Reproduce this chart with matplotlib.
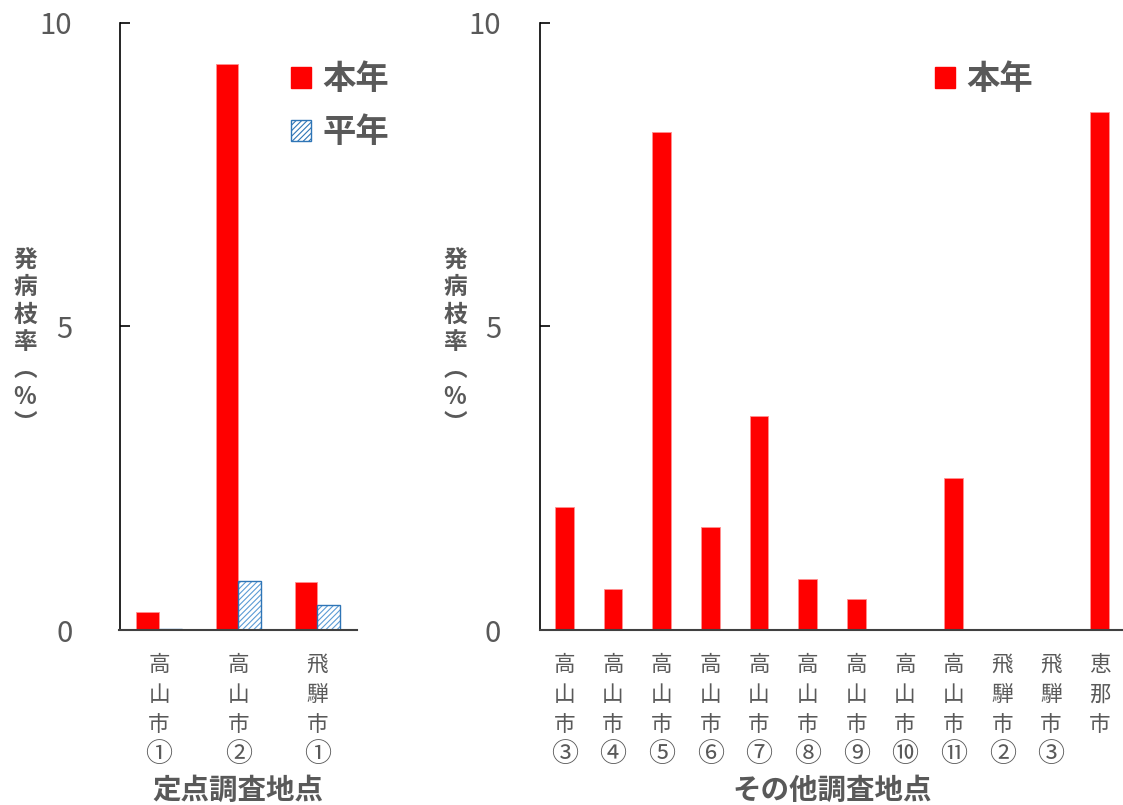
import numpy as np
import matplotlib
matplotlib.use("Agg")
from matplotlib import pyplot as plt
from matplotlib.patches import Patch

plt.rcParams['font.family'] = ['Noto Sans CJK JP', 'DejaVu Sans']
plt.rcParams['hatch.linewidth'] = 0.8

# -- datos -- #
fijos = ["高山市", "高山市", "飛騨市"]
fijos_num = ["①", "②", "①"]
fijos_honnen = [0.30, 9.32, 0.79]
fijos_heinen = [0.02, 0.81, 0.41]

otros = ["高山市", "高山市", "高山市", "高山市", "高山市", "高山市",
         "高山市", "高山市", "高山市", "飛騨市", "飛騨市", "恵那市"]
otros_num = ["③", "④", "⑤", "⑥", "⑦", "⑧", "⑨", "⑩", "⑪", "②", "③", ""]
otros_honnen = [2.02, 0.67, 8.21, 1.69, 3.53, 0.84, 0.51, 0.0, 2.51, 0.0, 0.0, 8.54]

gris = "#595959"
rojo = "#FF0000"
azul = "#2E75B6"
azul_claro = "#5B9BD5"
ylabel = "\n".join(["発", "病", "枝", "率", "︵", "%", "︶"])


def vertical(s):
    return "\n".join(list(s))


def estilo(ax, pad, nums):
    ax.set_ylim(0, 10)
    ax.set_yticks([0, 5, 10])
    ax.tick_params(axis="y", direction="in", length=7, width=1.2, pad=pad,
                   labelsize=21, labelcolor=gris)
    ax.tick_params(axis="x", length=0, pad=17)
    for lab in ax.get_xticklabels():
        lab.set_fontsize(15.5)
        lab.set_color(gris)
        lab.set_linespacing(1.48)
        lab.set_va("top")
    # numeros en circulo debajo del nombre
    for x, n in zip(ax.get_xticks(), nums):
        ax.text(x, -0.205, n, transform=ax.get_xaxis_transform(), ha="center", va="center",
                fontsize=19.5, color=gris)
    ax.xaxis.set_label_coords(0.5, -0.242)
    ax.spines["top"].set_visible(False)
    ax.spines["right"].set_visible(False)
    ax.spines["left"].set_linewidth(1.2)
    ax.spines["bottom"].set_linewidth(1.5)
    ax.spines["bottom"].set_color("#404040")


fig = plt.figure(figsize=(11.23, 8.05), dpi=100)

# -- definidos -- #
ax1 = fig.add_axes([119.5 / 1123, 1 - 630 / 805, (357 - 119.5) / 1123, (630 - 23) / 805])
x1 = np.arange(len(fijos))
w1 = 0.287
ax1.bar(x1 - w1 / 2, fijos_honnen, w1, color=rojo, edgecolor="#FF9090", linewidth=0.6)
ax1.bar(x1 + w1 / 2, fijos_heinen, w1, color="white", edgecolor=azul_claro, hatch="//////", linewidth=0)
ax1.bar(x1 + w1 / 2, fijos_heinen, w1, fill=False, edgecolor=azul, linewidth=1.0)
ax1.set_xlim(-0.5, 2.5)
ax1.set_xticks(x1)
ax1.set_xticklabels([vertical(s) for s in fijos])
ax1.set_xlabel("定点調査地点", fontsize=20.5, fontweight="bold", color=gris)
estilo(ax1, 34, fijos_num)
fig.text(25 / 1123, 1 - 342 / 805, ylabel, fontsize=17, fontweight="bold", color=gris,
         ha="center", va="center", linespacing=1.18)
h_rojo = Patch(facecolor=rojo, edgecolor=rojo)
h_azul = Patch(facecolor="white", edgecolor=azul, hatch="//////")
ax1.legend([h_rojo, h_azul], ["本年", "平年"], loc="upper left", frameon=False,
           bbox_to_anchor=(261 / 1123, 1 - 33 / 805), bbox_transform=fig.transFigure,
           prop={"size": 24, "weight": "bold"}, labelcolor=gris,
           handlelength=0.6, handleheight=0.6, handletextpad=0.35, labelspacing=0.6)

# -- otros -- #
ax2 = fig.add_axes([540 / 1123, 1 - 630 / 805, (1124 - 540) / 1123, (630 - 23) / 805])
x2 = np.arange(len(otros))
ax2.bar(x2, otros_honnen, 0.39, color=rojo, edgecolor="#FF9090", linewidth=0.6)
ax2.set_xlim(-0.5, len(otros) - 0.5)
ax2.set_xticks(x2)
ax2.set_xticklabels([vertical(s) for s in otros])
ax2.set_xlabel("その他調査地点", fontsize=20.5, fontweight="bold", color=gris)
estilo(ax2, 28, otros_num)
fig.text(455 / 1123, 1 - 342 / 805, ylabel, fontsize=17, fontweight="bold", color=gris,
         ha="center", va="center", linespacing=1.18)
ax2.legend([h_rojo], ["本年"], loc="upper left", frameon=False,
           bbox_to_anchor=(905 / 1123, 1 - 33 / 805), bbox_transform=fig.transFigure,
           prop={"size": 24, "weight": "bold"}, labelcolor=gris,
           handlelength=0.6, handleheight=0.6, handletextpad=0.35)

fig.savefig("out.png", dpi=100)
